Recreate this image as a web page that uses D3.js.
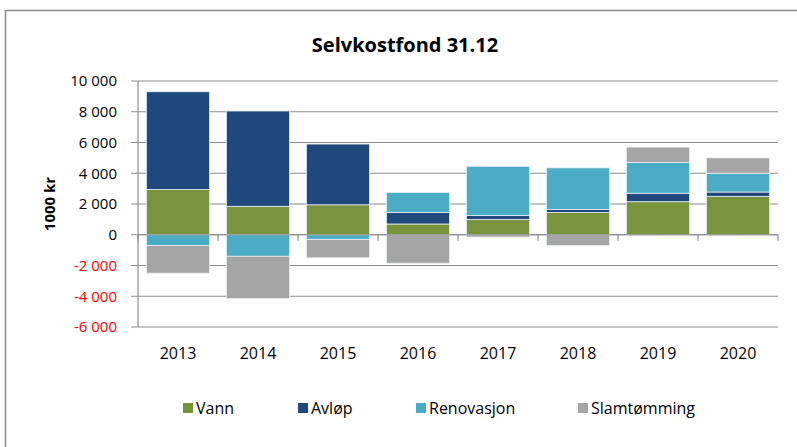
<!DOCTYPE html>
<html>
<head>
<meta charset="utf-8">
<script src="https://cdn.jsdelivr.net/npm/d3@7"></script>
<style>
  body { margin: 0; background: #fff; }
  text { font-family: "Open Sans", sans-serif; }
</style>
</head>
<body>
<div id="chart"></div>
<script>
// categories and series (1000 kr)
const years = ["2013", "2014", "2015", "2016", "2017", "2018", "2019", "2020"];
const vann = [2950, 1850, 1950, 700, 1000, 1450, 2150, 2500];
const avlop = [6350, 6200, 3950, 750, 250, 200, 550, 280];
const renovasjon = [-700, -1400, -300, 1300, 3200, 2700, 2000, 1220];
const slamtomming = [-1800, -2750, -1200, -1850, -150, -700, 1000, 1000];
const yTicks = [-6000, -4000, -2000, 0, 2000, 4000, 6000, 8000, 10000];

const seriesNames = ["Vann", "Avløp", "Renovasjon", "Slamtømming"];
const seriesColors = ["#77933C", "#1F497D", "#4BACC6", "#A5A5A5"];
const seriesValues = [vann, avlop, renovasjon, slamtomming];

const W = 797, H = 447;
const plot = {left: 138, right: 778, top: 81, bottom: 327};

const svg = d3.select("#chart").append("svg")
    .attr("width", W)
    .attr("height", H);

// outer frame
svg.append("rect")
    .attr("x", 5.5).attr("y", 10.5)
    .attr("width", W + 20).attr("height", H + 20)
    .attr("fill", "none")
    .attr("stroke", "#8c8c8c")
    .attr("stroke-width", 1.5);

// title
svg.append("text")
    .attr("x", 405).attr("y", 52)
    .attr("text-anchor", "middle")
    .style("font-size", "20px")
    .style("font-weight", "bold")
    .text("Selvkostfond 31.12");

const x = d3.scaleBand()
    .domain(years)
    .range([plot.left, plot.right])
    .paddingInner(0.21)
    .paddingOuter(0.105);

const y = d3.scaleLinear()
    .domain([-6000, 10000])
    .range([plot.bottom, plot.top]);

// gridlines
svg.append("g").selectAll("line")
    .data(yTicks)
    .enter().append("line")
    .attr("x1", plot.left - 7).attr("x2", plot.right)
    .attr("y1", d => y(d)).attr("y2", d => y(d))
    .attr("stroke", "#8c8c8c")
    .attr("stroke-width", 1.2);

// y axis line
svg.append("line")
    .attr("x1", plot.left).attr("x2", plot.left)
    .attr("y1", plot.top).attr("y2", plot.bottom)
    .attr("stroke", "#8c8c8c")
    .attr("stroke-width", 1.2);

// y tick labels
const fmt = d => {
    let s = d3.format(",")(Math.abs(d)).replace(/,/g, " ");
    return (d < 0 ? "-" : "") + s;
};
svg.append("g").selectAll("text")
    .data(yTicks)
    .enter().append("text")
    .attr("x", 117)
    .attr("y", d => y(d))
    .attr("dy", "0.36em")
    .attr("text-anchor", "end")
    .style("font-size", "15px")
    .attr("fill", d => d < 0 ? "#ff0000" : "#000")
    .text(fmt);

// y axis title
svg.append("text")
    .attr("transform", "translate(55,204) rotate(-90)")
    .attr("text-anchor", "middle")
    .style("font-size", "15px")
    .style("font-weight", "bold")
    .text("1000 kr");

// stack values: positives up, negatives down
const bars = [];
years.forEach((yr, i) => {
    let pos = 0, neg = 0;
    seriesValues.forEach((vals, s) => {
        const v = vals[i];
        let y0, y1;
        if (v >= 0) { y0 = pos; y1 = pos + v; pos = y1; }
        else { y0 = neg; y1 = neg + v; neg = y1; }
        bars.push({year: yr, s: s, y0: y0, y1: y1});
    });
});

svg.append("g").selectAll("rect")
    .data(bars)
    .enter().append("rect")
    .attr("x", d => x(d.year))
    .attr("width", x.bandwidth())
    .attr("y", d => y(Math.max(d.y0, d.y1)))
    .attr("height", d => Math.abs(y(d.y0) - y(d.y1)))
    .attr("fill", d => seriesColors[d.s])
    .attr("stroke", "#e8eef4")
    .attr("stroke-width", 0.8);

// x axis at zero with category boundary ticks
svg.append("line")
    .attr("x1", plot.left).attr("x2", plot.right)
    .attr("y1", y(0)).attr("y2", y(0))
    .attr("stroke", "#8c8c8c")
    .attr("stroke-width", 1.2);

svg.append("g").selectAll("line")
    .data(d3.range(years.length + 1))
    .enter().append("line")
    .attr("x1", i => plot.left + i * (plot.right - plot.left) / years.length)
    .attr("x2", i => plot.left + i * (plot.right - plot.left) / years.length)
    .attr("y1", y(0)).attr("y2", y(0) + 6)
    .attr("stroke", "#8c8c8c")
    .attr("stroke-width", 1.2);

// x labels
svg.append("g").selectAll("text")
    .data(years)
    .enter().append("text")
    .attr("x", d => x(d) + x.bandwidth() / 2)
    .attr("y", 359)
    .attr("text-anchor", "middle")
    .style("font-size", "16px")
    .text(d => d);

// legend
const legendX = [183, 298, 416, 578];
const legend = svg.append("g").selectAll("g")
    .data(seriesNames)
    .enter().append("g")
    .attr("transform", (d, i) => `translate(${legendX[i]},408)`);

legend.append("rect")
    .attr("x", 0).attr("y", -5)
    .attr("width", 10).attr("height", 10)
    .attr("fill", (d, i) => seriesColors[i]);

legend.append("text")
    .attr("x", 13)
    .attr("y", 0)
    .attr("dy", "0.36em")
    .style("font-size", "16px")
    .text(d => d);
</script>
</body>
</html>
